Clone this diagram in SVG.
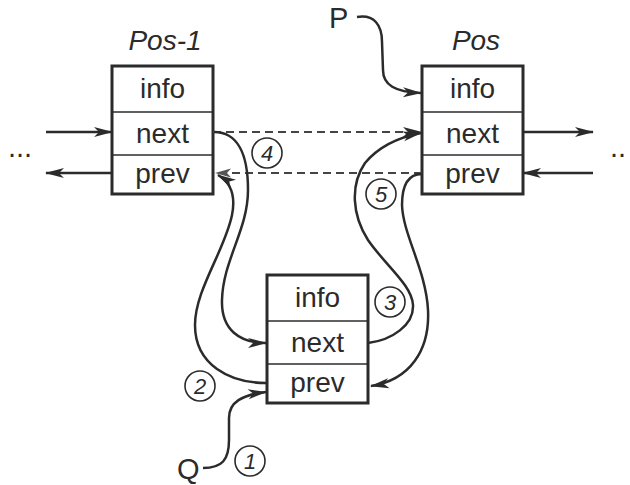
<svg xmlns="http://www.w3.org/2000/svg" width="630" height="485" viewBox="0 0 630 485">
<style>
  .box { fill: #ffffff; stroke: #2b2b2b; stroke-width: 3; }
  .div { stroke: #2b2b2b; stroke-width: 1.5; }
  .lbl { font-family: "Liberation Sans", Arial, sans-serif; font-size: 28px; fill: #2b2b2b; text-anchor: middle; }
  .ttl { font-family: "Liberation Sans", Arial, sans-serif; font-size: 28px; font-style: italic; fill: #2b2b2b; text-anchor: middle; }
  .ptr { font-family: "Liberation Sans", Arial, sans-serif; font-size: 29px; fill: #2b2b2b; }
  .num { font-family: "Liberation Sans", Arial, sans-serif; font-size: 22px; font-style: italic; fill: #2b2b2b; text-anchor: middle; }
  .circ { fill: none; stroke: #2b2b2b; stroke-width: 1.6; }
  .ln { fill: none; stroke: #2b2b2b; stroke-width: 2.5; marker-end: url(#arr); }
  .dash { fill: none; stroke: #444; stroke-width: 2; stroke-dasharray: 8 5; }
</style>
<defs>
  <marker id="arr" markerUnits="userSpaceOnUse" markerWidth="22" markerHeight="14" viewBox="-20 -7 22 14" refX="0" refY="0" orient="auto">
    <path d="M1,0 L-18,-5 L-13,0 L-18,5 Z" fill="#2b2b2b"/>
  </marker>
  <marker id="arrL" markerUnits="userSpaceOnUse" markerWidth="22" markerHeight="14" viewBox="-20 -7 22 14" refX="0" refY="0" orient="auto">
    <path d="M1,0 L-15,-4.5 L-11,0 L-15,4.5 Z" fill="#555"/>
  </marker>
</defs>

<g id="node-pos-1">
  <text class="ttl" x="165" y="50">Pos-1</text>
  <rect class="box" x="112" y="66" width="101" height="128"/>
  <line class="div" x1="112" y1="112" x2="213" y2="112"/>
  <line class="div" x1="112" y1="155" x2="213" y2="155"/>
  <text class="lbl" x="162.5" y="98">info</text>
  <text class="lbl" x="162.5" y="143">next</text>
  <text class="lbl" x="162.5" y="183">prev</text>
</g>

<g id="node-pos">
  <text class="ttl" x="476" y="50">Pos</text>
  <rect class="box" x="422" y="66" width="101" height="128"/>
  <line class="div" x1="422" y1="112" x2="523" y2="112"/>
  <line class="div" x1="422" y1="155" x2="523" y2="155"/>
  <text class="lbl" x="472.5" y="98">info</text>
  <text class="lbl" x="472.5" y="143">next</text>
  <text class="lbl" x="472.5" y="183">prev</text>
</g>

<g id="node-new">
  <rect class="box" x="267" y="275" width="101" height="128"/>
  <line class="div" x1="267" y1="321" x2="368" y2="321"/>
  <line class="div" x1="267" y1="364" x2="368" y2="364"/>
  <text class="lbl" x="317.5" y="307">info</text>
  <text class="lbl" x="317.5" y="352">next</text>
  <text class="lbl" x="317.5" y="392">prev</text>
</g>

<g id="pointer-p">
  <text class="ptr" x="329" y="28">P</text>
</g>
<g id="pointer-q">
  <text class="ptr" x="177" y="479">Q</text>
</g>

<g id="ellipsis">
  <text class="ptr" x="8" y="157">...</text>
  <text class="ptr" x="610" y="157">..</text>
</g>

<g id="step-labels">
  <circle class="circ" cx="250" cy="461" r="15"/>
  <text class="num" x="250" y="469">1</text>
  <circle class="circ" cx="200" cy="386" r="15"/>
  <text class="num" x="200" y="394">2</text>
  <circle class="circ" cx="390" cy="302" r="15"/>
  <text class="num" x="390" y="310">3</text>
  <circle class="circ" cx="267" cy="153" r="15"/>
  <text class="num" x="267" y="161">4</text>
  <circle class="circ" cx="381" cy="194" r="15"/>
  <text class="num" x="381" y="202">5</text>
</g>

<g id="connectors">
  <path class="ln" d="M46,132 L112,132"/>
  <path class="ln" d="M112,173 L46,173"/>
  <path class="ln" d="M523,132 L593,132"/>
  <path class="ln" d="M593,173 L523,173"/>
  <path class="dash" d="M213,132 L421,132" marker-end="url(#arr)"/>
  <path class="dash" d="M422,173 L216,173" marker-end="url(#arrL)"/>
  <path class="ln" d="M357,17 C374,14 382,25 382,42 L383,70 C383,85 395,92 421,93"/>
  <path class="ln" d="M203,468 C222,468 229,460 229,440 L229,418 C229,402 242,395 266,392"/>
  <path class="ln" d="M214,132 C238,132 248,155 248,190 C248,230 223,260 222,300 C221,330 240,343 266,343"/>
  <path class="ln" d="M266,383 C230,383 195,365 195,325 C195,290 225,250 232,215 C236,195 230,182 218,175"/>
  <path class="ln" d="M368,343 C392,340 414,325 413,305 C412,285 385,265 368,240 C352,215 350,185 365,163 C380,145 400,137 421,133"/>
  <path class="ln" d="M422,174 C408,174 402,186 402,205 C403,235 426,270 428,310 C430,350 410,380 371,386"/>
</g>
</svg>
